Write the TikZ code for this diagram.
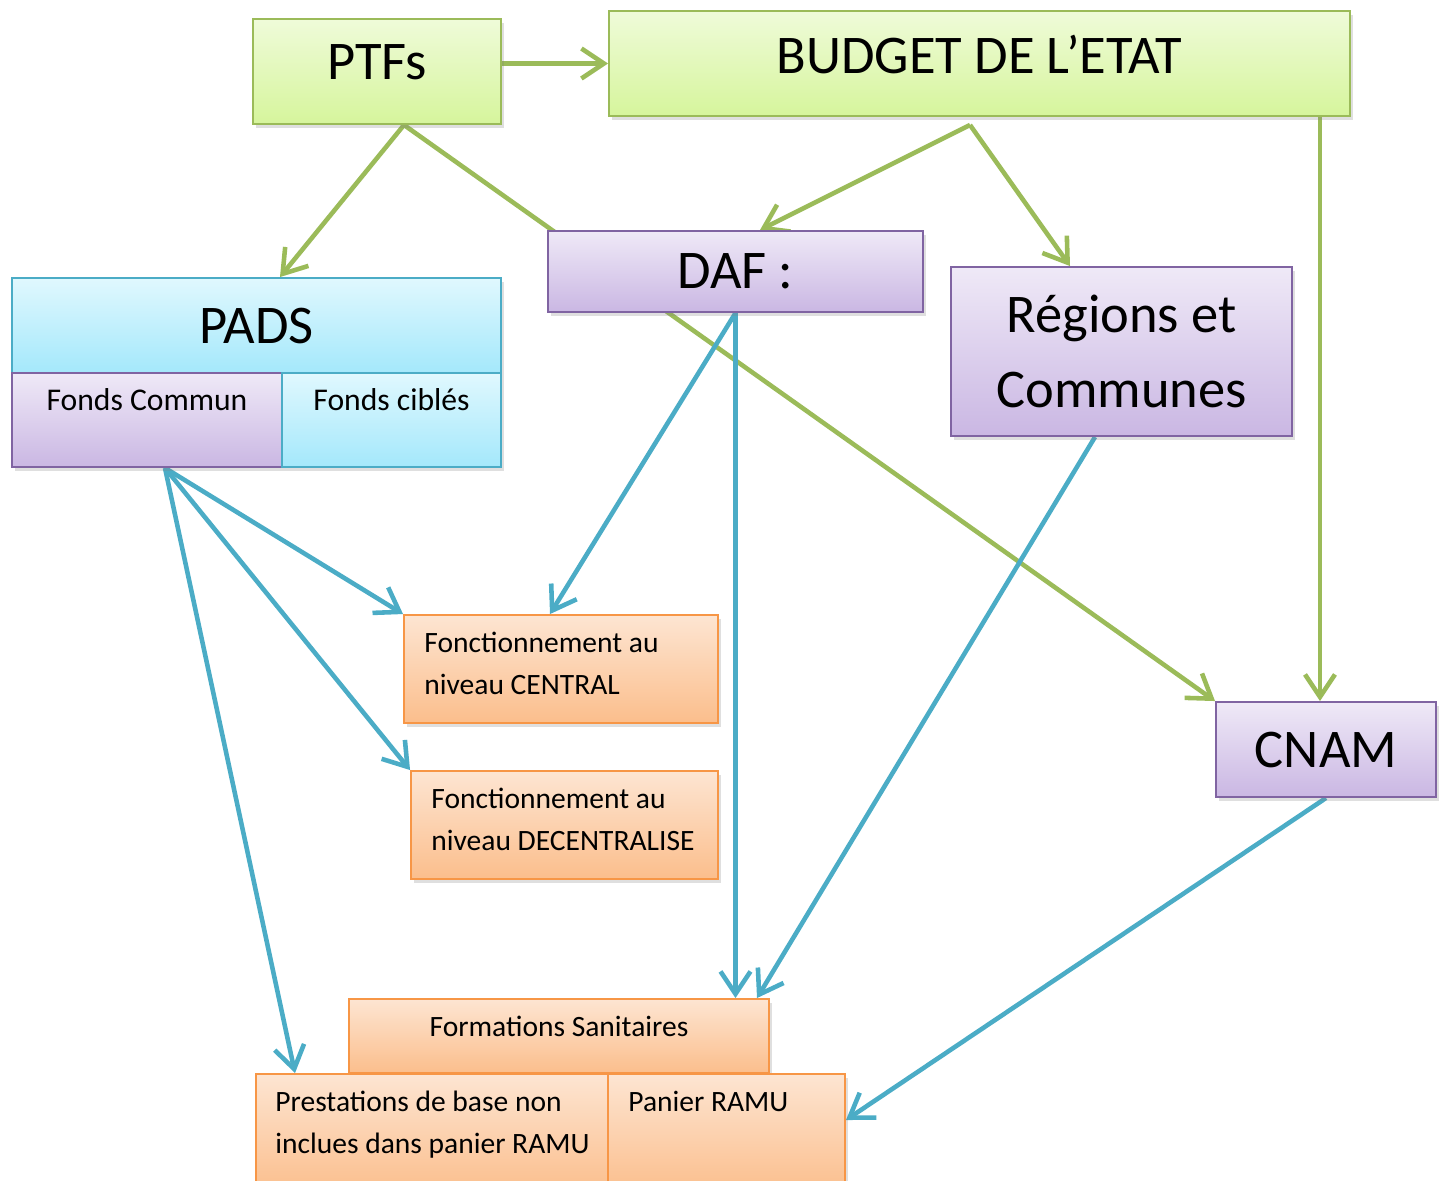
\documentclass[tikz,border=0pt]{standalone}
\usepackage{fontspec}
\setmainfont{Carlito}
\usetikzlibrary{arrows.meta,positioning,shadows}
\pgfdeclarelayer{background}
\pgfsetlayers{background,main}
\definecolor{greenline}{HTML}{9BBB59}
\definecolor{greentop}{HTML}{EFFBD9}
\definecolor{greenbot}{HTML}{D6F59C}
\definecolor{blueline}{HTML}{4BACC6}
\definecolor{cyantop}{HTML}{E0F8FE}
\definecolor{cyanbot}{HTML}{A4E8FB}
\definecolor{purpleline}{HTML}{8064A2}
\definecolor{purpletop}{HTML}{EFE9F7}
\definecolor{purplebot}{HTML}{CAB7E3}
\definecolor{orangeline}{HTML}{F79646}
\definecolor{orangetop}{HTML}{FDE5D2}
\definecolor{orangebot}{HTML}{FBBE8C}

\begin{document}
\begin{tikzpicture}[
  box/.style={line width=1.1pt,inner sep=0pt,drop shadow={opacity=0.25,shadow xshift=0.05cm,shadow yshift=-0.07cm}},
  greenbox/.style={box,draw=greenline,top color=greentop,bottom color=greenbot},
  cyanbox/.style={box,draw=blueline,top color=cyantop,bottom color=cyanbot},
  purplebox/.style={box,draw=purpleline,top color=purpletop,bottom color=purplebot},
  orangebox/.style={box,draw=orangeline,top color=orangetop,bottom color=orangebot},
  bigfont/.style={font=\fontsize{31}{43}\selectfont,align=center},
  toptext/.style={font=\fontsize{18}{23.8}\selectfont,align=left,inner ysep=0.32cm},
  orangetext/.style={font=\fontsize{16.8}{23.8}\selectfont,align=left,inner ysep=0.35cm},
  flowgreen/.style={draw=greenline,line width=2.6pt,-{Straight Barb[length=0.45cm,width=0.6cm]}},
  flowblue/.style={draw=blueline,line width=2.6pt,-{Straight Barb[length=0.45cm,width=0.6cm]}}
]
\useasboundingbox (0,0) rectangle (28.86,-23.6);

% sources
\node[greenbox,bigfont,text depth=0.36cm,minimum width=4.96cm,minimum height=2.1cm] (ptfs) at (7.54,-1.43) {PTFs};
\node[greenbox,bigfont,text depth=0.36cm,minimum width=14.82cm,minimum height=2.1cm] (budget) at (19.59,-1.27) {BUDGET DE L’ETAT};

% PADS
\node[cyanbox,bigfont,minimum width=9.78cm,minimum height=1.9cm] (pads) at (5.13,-6.51) {PADS};
\node[purplebox,minimum width=5.4cm,minimum height=1.88cm,label={[toptext,anchor=north]north:Fonds Commun}] (fc) at (2.94,-8.4) {};
\node[cyanbox,minimum width=4.38cm,minimum height=1.88cm,label={[toptext,anchor=north]north:Fonds ciblés}] (fcib) at (7.83,-8.4) {};

% intermediaires
\node[purplebox,bigfont,minimum width=7.5cm,minimum height=1.62cm] (daf) at (14.71,-5.43) {DAF :};
\node[purplebox,bigfont,minimum width=6.82cm,minimum height=3.38cm] (regions) at (22.43,-7.03) {Régions et\\Communes};
\node[purplebox,bigfont,minimum width=4.4cm,minimum height=1.9cm] (cnam) at (26.52,-14.99) {CNAM};

% emplois
\node[orangebox,minimum width=6.28cm,minimum height=2.16cm,label={[orangetext,anchor=north west,inner xsep=0.42cm]north west:Fonctionnement au\\niveau CENTRAL}] (central) at (11.22,-13.38) {};
\node[orangebox,minimum width=6.14cm,minimum height=2.16cm,label={[orangetext,anchor=north west,inner xsep=0.42cm]north west:Fonctionnement au\\niveau DECENTRALISE}] (decentral) at (11.29,-16.5) {};
\node[orangebox,minimum width=8.4cm,minimum height=1.48cm,label={[orangetext,anchor=north]north:Formations Sanitaires}] (form) at (11.18,-20.72) {};
\node[orangebox,minimum width=7.04cm,minimum height=2.4cm,label={[orangetext,anchor=north west,inner xsep=0.4cm]north west:Prestations de base non\\inclues dans panier RAMU}] (prest) at (8.64,-22.68) {};
\node[orangebox,minimum width=4.74cm,minimum height=2.4cm,label={[orangetext,anchor=north west,inner xsep=0.42cm]north west:Panier RAMU}] (panier) at (14.53,-22.68) {};

\begin{pgfonlayer}{background}
\coordinate (ptfsout) at ([xshift=0.54cm]ptfs.south);
\coordinate (budgetout) at ([xshift=-0.19cm,yshift=-0.16cm]budget.south);
\coordinate (fcout) at ([xshift=0.36cm]fc.south);
\draw[flowgreen] (budget.west -| ptfs.east) -- (budget.west);
\draw[flowgreen] (ptfsout) -- ([xshift=0.47cm]pads.north);
\draw[flowgreen] (ptfsout) -- (cnam.north west);
\draw[flowgreen] (budgetout) -- ([xshift=0.49cm]daf.north);
\draw[flowgreen] (budgetout) -- ([xshift=-1.03cm]regions.north);
\draw[flowgreen] ([xshift=-0.12cm]cnam.north |- budget.south) -- ([xshift=-0.12cm]cnam.north);
\draw[flowblue] (fcout) -- (central.north west);
\draw[flowblue] (fcout) -- (decentral.north west);
\draw[flowblue] (fcout) -- ([xshift=-2.74cm]prest.north);
\draw[flowblue] (daf.south) -- ([xshift=-0.22cm]central.north);
\draw[flowblue] (daf.south) -- (daf.south |- form.north);
\draw[flowblue] ([xshift=-0.53cm]regions.south) -- ([xshift=3.96cm]form.north);
\draw[flowblue] (cnam.south) -- ([yshift=0.28cm]panier.east);
\end{pgfonlayer}
\end{tikzpicture}
\end{document}
